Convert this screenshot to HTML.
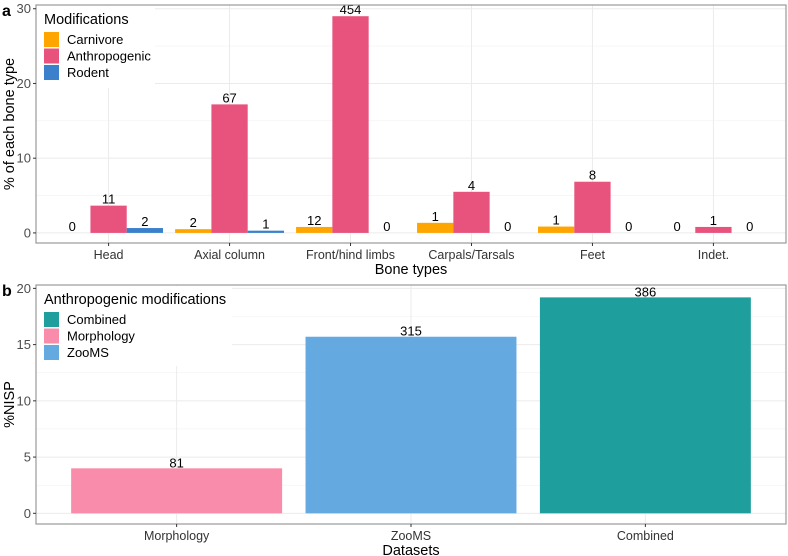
<!DOCTYPE html>
<html><head><meta charset="utf-8">
<style>
body{margin:0;background:#fff;}
svg{display:block;font-family:"Liberation Sans",Arial,sans-serif;}
</style></head>
<body>
<svg id="chart" width="788" height="556" viewBox="0 0 788 556"></svg>
<script>
// Panel a data
const boneCategories = ["Head","Axial column","Front/hind limbs","Carpals/Tarsals","Feet","Indet."];
const modSeries = ["Carnivore","Anthropogenic","Rodent"];
const carnivoreVals = [0,0.5,0.8,1.35,0.85,0];
const anthroVals = [3.65,17.2,29.0,5.5,6.85,0.8];
const rodentVals = [0.65,0.3,0,0,0,0];
const carnivoreCounts = ["0","2","12","1","1","0"];
const anthroCounts = ["11","67","454","4","8","1"];
const rodentCounts = ["2","1","0","0","0","0"];
const yTicksA = [0,10,20,30];
// Panel b data
const datasetCategories = ["Morphology","ZooMS","Combined"];
const nispVals = [4.0,15.7,19.2];
const nispCounts = ["81","315","386"];
const yTicksB = [0,5,10,15,20];
const legendB = ["Combined","Morphology","ZooMS"];

const NS="http://www.w3.org/2000/svg";
const svg=document.getElementById('chart');
function el(tag,attrs,parent){const e=document.createElementNS(NS,tag);for(const k in attrs)e.setAttribute(k,attrs[k]);(parent||svg).appendChild(e);return e;}
function txt(s,attrs,parent){const e=el('text',attrs,parent);e.textContent=s;return e;}

const colA={"Carnivore":"#FFA500","Anthropogenic":"#E8537D","Rodent":"#3A80CB"};
const colB={"Combined":"#1F9E9E","Morphology":"#F98CAB","ZooMS":"#64AAE0"};

function panel(opt){
  const g=el('g',{});
  
  
  const {x0,x1,yTop,yBot,ymin,ymax}=opt;
  const ys=v=>yBot-(v-ymin)/(ymax-ymin)*(yBot-yTop);
  const n=opt.cats.length, step=(x1-x0)/(n+0.2);
  const xs=i=>x0+step*(i+0.6);
  for(let i=0;i<opt.ticks.length;i++){
    const t=opt.ticks[i];
    if(i<opt.ticks.length-1){const m=(t+opt.ticks[i+1])/2;el('line',{x1:x0,x2:x1,y1:ys(m),y2:ys(m),stroke:'#f2f2f2','stroke-width':0.6},g);}
    const gl=el('line',{x1:x0,x2:x1,y1:ys(t),y2:ys(t),stroke:'#ebebeb','stroke-width':1},g);
    
  }
  for(let i=0;i<n;i++){el('line',{x1:xs(i),x2:xs(i),y1:yTop,y2:yBot,stroke:'#ebebeb','stroke-width':1},g);}
  opt.drawBars(g,xs,ys,step);
  const b=el('rect',{x:x0,y:yTop,width:x1-x0,height:yBot-yTop,fill:'none',stroke:'#999','stroke-width':1.2},g);
  
  opt.ticks.forEach(t=>{
    el('line',{x1:x0-3,x2:x0,y1:ys(t),y2:ys(t),stroke:'#333'},g);
    const l=txt(String(t),{x:x0-5,y:ys(t)+4.5,'text-anchor':'end','font-size':13,fill:'#4d4d4d'},g);
    
  });
  opt.cats.forEach((c,i)=>{
    el('line',{x1:xs(i),x2:xs(i),y1:yBot,y2:yBot+3,stroke:'#333'},g);
    const l=txt(c,{x:xs(i),y:yBot+16,'text-anchor':'middle','font-size':12.5,fill:'#333'},g);
    
  });
  const xt=txt(opt.xtitle,{x:(x0+x1)/2,y:yBot+31,'text-anchor':'middle','font-size':14.5,fill:'#000'},g);
  
  const yt=txt(opt.ytitle,{x:0,y:0,transform:`translate(14,${(yTop+yBot)/2}) rotate(-90)`,'text-anchor':'middle','font-size':14.5,fill:'#000'},g);
  
  const tag=txt(opt.tag,{x:2,y:yTop+11,'font-size':16,'font-weight':'bold',fill:'#000'},g);
  
  const lg=el('g',{},g);
  
  el('rect',{x:x0+1,y:yTop+1,width:opt.legW,height:opt.legH,fill:'#fff'},lg);
  txt(opt.legTitle,{x:x0+8,y:yTop+19,'font-size':14.5,fill:'#000'},lg);
  opt.legItems.forEach((it,i)=>{
    const ly=yTop+27+i*16.5;
    const r=el('rect',{x:x0+8,y:ly,width:15,height:15,fill:opt.legCol[it]},lg);
    
    const t=txt(it,{x:x0+31,y:ly+12,'font-size':13,fill:'#000'},lg);
    
  });
}

panel({name:'panel-a',x0:36,x1:786,yTop:5,yBot:243,ymin:-1.35,ymax:30.5,ticks:yTicksA,cats:boneCategories,
  xtitle:'Bone types',ytitle:'% of each bone type',tag:'a',legTitle:'Modifications',legItems:modSeries,legCol:colA,legW:118,legH:82,
  drawBars:(g,xs,ys,step)=>{
    const bw=step*0.9/3;
    const sets=[[carnivoreVals,carnivoreCounts,'Carnivore'],[anthroVals,anthroCounts,'Anthropogenic'],[rodentVals,rodentCounts,'Rodent']];
    boneCategories.forEach((c,i)=>{
      sets.forEach((s,k)=>{
        const x=xs(i)+(k-1)*bw-bw/2, v=s[0][i];
        const r=el('rect',{x:x,y:ys(v),width:bw,height:ys(0)-ys(v),fill:colA[s[2]]},g);
        
        const t=txt(s[1][i],{x:x+bw/2,y:ys(v)-2,'text-anchor':'middle','font-size':13,fill:'#000'},g);
        
      });
    });
  }});

panel({name:'panel-b',x0:36,x1:786,yTop:285,yBot:524,ymin:-0.95,ymax:20.3,ticks:yTicksB,cats:datasetCategories,
  xtitle:'Datasets',ytitle:'%NISP',tag:'b',legTitle:'Anthropogenic modifications',legItems:legendB,legCol:colB,legW:195,legH:80,
  drawBars:(g,xs,ys,step)=>{
    const bw=step*0.9;
    datasetCategories.forEach((c,i)=>{
      const x=xs(i)-bw/2,v=nispVals[i];
      const r=el('rect',{x:x,y:ys(v),width:bw,height:ys(0)-ys(v),fill:colB[c]},g);
      
      const t=txt(nispCounts[i],{x:xs(i),y:ys(v)-1,'text-anchor':'middle','font-size':13,fill:'#000'},g);
      
    });
  }});
</script>
</body></html>
